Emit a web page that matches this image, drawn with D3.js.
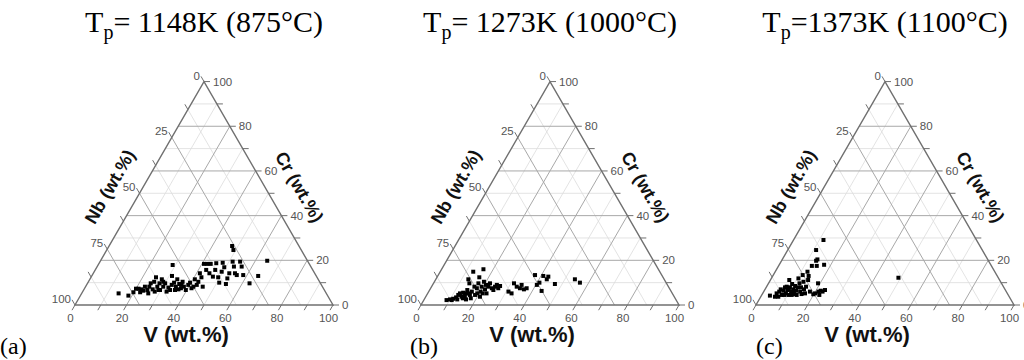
<!DOCTYPE html>
<html>
<head>
<meta charset="utf-8">
<script src="https://cdn.jsdelivr.net/npm/d3@7"></script>
<style>
  body { margin: 0; background: #fff; }
  svg { display: block; }
</style>
</head>
<body>
<svg id="chart" width="1024" height="360"></svg>
<script>
// Panel titles (text after the "T" with subscript p)
const titleTexts = ["= 1148K (875°C)", "= 1273K (1000°C)", "=1373K (1100°C)"];
const panelLetters = ["(a)", "(b)", "(c)"];

// Axis ticks (major, labelled) and minor steps
const vTicks = [0, 20, 40, 60, 80, 100];
const crTicks = [0, 20, 40, 60, 80, 100];
const nbTicks = [0, 25, 50, 75, 100];
const vMinor = [10, 30, 50, 70, 90];
const crMinor = [10, 30, 50, 70, 90];
const nbMinor = [12.5, 37.5, 62.5, 87.5];

// Compositions as [V, Cr] in wt.%, Nb is the balance
const pointsA = [
  [14.3,5.2],[18.6,4.2],[19.8,5.7],[20.0,7.3],[21.0,7.3],[22.2,7.0],[23.3,6.4],[24.7,6.7],
  [24.7,8.2],[24.5,9.7],[26.6,7.0],[25.5,10.4],[25.2,12.4],[27.8,8.2],[27.9,9.7],[29.6,6.7],
  [27.9,11.5],[30.1,8.2],[30.1,9.7],[32.5,6.0],[32.3,7.8],[28.9,17.9],[31.1,13.0],[33.4,10.0],
  [35.0,8.2],[33.9,11.5],[35.7,9.4],[37.3,7.5],[36.5,10.4],[38.1,8.2],[39.6,6.7],[39.4,9.0],
  [41.4,7.5],[40.7,11.5],[42.7,9.0],[42.6,10.4],[41.3,14.2],[42.8,12.4],[45.4,8.2],[40.8,18.4],
  [43.0,15.7],[42.1,18.4],[45.0,14.2],[43.4,18.4],[47.1,12.7],[46.5,15.7],[45.4,18.7],[49.3,12.4],
  [50.9,10.0],[49.4,14.9],[47.8,18.9],[49.4,16.9],[53.8,9.4],[53.1,11.9],[52.7,14.2],[47.7,26.4],
  [49.1,24.6],[51.4,19.4],[53.0,17.2],[54.9,14.2],[56.0,13.4],[54.3,19.4],[56.0,17.2],[58.5,13.4],
  [62.8,9.7],[64.5,13.0],[64.6,19.8],[23.0,8.2],[27.9,6.0],[29.0,6.7],[33.5,6.7],[33.0,9.0],
  [35.4,6.7],[36.6,7.0],[36.8,9.0],[39.6,10.0],[41.8,8.2],[29.0,10.4],[25.8,5.2],[22.4,5.7]
];
const pointsB = [
  [8.8,2.2],[10.0,2.5],[11.1,2.8],[11.9,3.4],[12.2,4.5],[12.5,5.2],[13.9,3.7],[13.6,5.5],
  [15.0,4.0],[16.2,2.5],[14.6,6.7],[15.7,5.2],[13.9,9.7],[17.8,3.0],[16.7,6.0],[12.8,14.9],
  [18.7,4.5],[17.9,7.5],[17.4,9.7],[16.4,12.4],[21.0,3.7],[20.1,6.0],[19.4,8.2],[16.2,16.0],
  [19.2,10.4],[21.3,7.0],[20.7,9.0],[22.8,5.2],[22.0,8.2],[21.9,9.7],[23.7,7.5],[24.7,6.7],
  [24.6,8.2],[24.9,9.0],[26.2,7.5],[26.4,8.5],[30.9,6.0],[32.5,5.2],[31.2,9.7],[33.0,8.2],
  [34.6,7.5],[34.5,9.0],[36.4,7.0],[37.2,7.5],[37.5,13.4],[40.4,9.0],[40.9,10.0],[43.6,6.3],
  [40.9,13.0],[43.0,11.5],[43.0,12.7],[47.2,9.4],[53.9,11.5],[56.6,10.0],[10.8,2.2],[12.8,2.5],
  [14.7,3.0],[14.8,5.2],[16.7,4.5],[19.2,5.2],[21.3,5.2],[12.6,11.5],[16.6,8.2]
];
const pointsC = [
  [3.3,4.2],[5.5,3.7],[5.4,5.2],[6.0,6.0],[6.1,7.0],[7.7,4.5],[7.4,6.4],[7.3,7.9],
  [9.0,5.2],[8.8,6.7],[10.3,4.5],[7.3,11.2],[9.2,7.9],[10.6,6.0],[9.3,9.4],[11.0,7.0],
  [12.3,4.9],[10.9,8.5],[12.3,6.4],[13.5,4.5],[12.2,7.9],[10.5,11.9],[12.0,9.7],[14.1,6.0],
  [13.5,7.9],[11.4,13.4],[13.2,10.4],[15.1,7.0],[16.4,5.2],[15.3,8.2],[12.5,14.9],[14.6,11.2],
  [13.9,13.0],[17.9,6.0],[12.9,17.5],[19.8,4.8],[20.3,5.2],[13.4,19.8],[14.8,17.5],[19.2,9.7],
  [21.2,6.0],[22.3,4.5],[21.9,6.4],[22.8,6.0],[17.4,18.0],[23.4,6.7],[11.6,29.1],[11.0,24.6],
  [13.6,20.4],[49.1,12.2],[6.8,3.7],[8.6,4.5],[11.6,4.5],[7.8,8.2],[11.2,6.0],[15.2,4.9],[9.2,7.0]
];

const panelData = [pointsA, pointsB, pointsC];
const panelLeft = [75, 421, 756];
const letterLeft = [0, 410, 756];

const side = 258;
const baseY = 305;
const triH = side * Math.sqrt(3) / 2;
const tickLen = 6;

const svg = d3.select("#chart");

function drawTernary(g, x0, data) {
    // scales along the base and up the height
    const along = d3.scaleLinear().domain([0, 100]).range([0, side]);
    const up = d3.scaleLinear().domain([0, 100]).range([0, triH]);
    const pos = (v, cr) => [x0 + along(v) + along(cr) / 2, baseY - up(cr)];

    const line = (a, b, cls, color, w) => {
        g.append("line")
            .attr("class", cls)
            .attr("x1", a[0]).attr("y1", a[1])
            .attr("x2", b[0]).attr("y2", b[1])
            .attr("stroke", color)
            .attr("stroke-width", w);
    };

    // grid: constant Cr (horizontal), constant V (parallel to left edge), constant Nb (parallel to right edge)
    const drawGrid = (crs, vs, nbs, color, w) => {
        crs.forEach(c => line(pos(0, c), pos(100 - c, c), "grid", color, w));
        vs.forEach(v => line(pos(v, 0), pos(v, 100 - v), "grid", color, w));
        nbs.forEach(n => line(pos(100 - n, 0), pos(0, 100 - n), "grid", color, w));
    };
    drawGrid(crMinor, vMinor, nbMinor, "#dcdcdc", 0.8);
    drawGrid(crTicks.slice(1, -1), vTicks.slice(1, -1), nbTicks.slice(1, -1), "#a8a8a8", 1);

    // triangle frame
    g.append("path")
        .attr("d", d3.line()([pos(0, 0), pos(100, 0), pos(0, 100)]) + "Z")
        .attr("fill", "none")
        .attr("stroke", "#707070")
        .attr("stroke-width", 1.4);

    const tickColor = "#707070";
    const labelStyle = sel => sel
        .attr("font-family", "Liberation Sans, Arial, sans-serif")
        .attr("font-size", 11.5)
        .attr("fill", "#555");

    // bottom axis (V): ticks point down-left
    const dl = [-0.5 * tickLen, 0.866 * tickLen];
    vTicks.concat(vMinor).forEach(v => {
        const p = pos(v, 0);
        line(p, [p[0] + dl[0], p[1] + dl[1]], "tick", tickColor, 1);
    });
    vTicks.forEach(v => {
        const p = pos(v, 0);
        g.append("text").call(labelStyle)
            .attr("x", p[0] - 4.5).attr("y", p[1] + 17)
            .attr("text-anchor", "middle")
            .text(v);
    });

    // right axis (Cr): ticks point right
    crTicks.concat(crMinor).forEach(c => {
        const p = pos(100 - c, c);
        line(p, [p[0] + tickLen, p[1]], "tick", tickColor, 1);
    });
    crTicks.forEach(c => {
        const p = pos(100 - c, c);
        g.append("text").call(labelStyle)
            .attr("x", p[0] + 9).attr("y", p[1] + 4)
            .text(c);
    });

    // left axis (Nb): ticks point up-left
    const ul = [-0.5 * tickLen, -0.866 * tickLen];
    nbTicks.concat(nbMinor).forEach(n => {
        const p = pos(0, 100 - n);
        line(p, [p[0] + ul[0], p[1] + ul[1]], "tick", tickColor, 1);
    });
    nbTicks.forEach(n => {
        const p = pos(0, 100 - n);
        g.append("text").call(labelStyle)
            .attr("x", p[0] - 4).attr("y", p[1] - 2)
            .attr("text-anchor", "end")
            .text(n);
    });

    // axis titles
    const axisFont = "Liberation Sans, Arial, sans-serif";
    g.append("text")
        .attr("x", x0 + side / 2 - 18).attr("y", 342)
        .attr("text-anchor", "middle")
        .attr("font-family", axisFont).attr("font-size", 22).attr("font-weight", "bold")
        .attr("fill", "#111")
        .text("V (wt.%)");

    const leftMid = pos(0, 50);
    const nbC = [leftMid[0] - 0.866 * 29 - 0.5 * 9, leftMid[1] - 0.5 * 29 + 0.866 * 9];
    g.append("text")
        .attr("transform", `translate(${nbC[0]},${nbC[1]}) rotate(-60)`)
        .attr("text-anchor", "middle").attr("dy", "0.35em")
        .attr("font-family", axisFont).attr("font-size", 18).attr("font-weight", "bold")
        .attr("fill", "#111")
        .text("Nb (wt.%)");

    const rightMid = pos(50, 50);
    const crC = [rightMid[0] + 0.866 * 30 + 0.5 * 10, rightMid[1] - 0.5 * 30 + 0.866 * 10];
    g.append("text")
        .attr("transform", `translate(${crC[0]},${crC[1]}) rotate(60)`)
        .attr("text-anchor", "middle").attr("dy", "0.35em")
        .attr("font-family", axisFont).attr("font-size", 18).attr("font-weight", "bold")
        .attr("fill", "#111")
        .text("Cr (wt.%)");

    // data points
    g.selectAll("path.pt")
        .data(data)
        .join("path")
        .attr("class", "pt")
        .attr("transform", d => `translate(${pos(d[0], d[1])})`)
        .attr("d", d3.symbol(d3.symbolSquare, 16))
        .attr("fill", "#000");
}

panelData.forEach((data, i) => {
    const x0 = panelLeft[i];
    const g = svg.append("g").attr("class", "panel");
    drawTernary(g, x0, data);

    // title with subscript
    const t = g.append("text")
        .attr("x", x0 + side / 2).attr("y", 32)
        .attr("text-anchor", "middle")
        .attr("font-family", "Liberation Serif, Times New Roman, serif")
        .attr("font-size", 30)
        .attr("fill", "#000");
    t.append("tspan").text("T");
    t.append("tspan").attr("font-size", 20).attr("dy", 7).text("p");
    t.append("tspan").attr("dy", -7).text(titleTexts[i]);

    // panel letter
    g.append("text")
        .attr("x", letterLeft[i]).attr("y", 354)
        .attr("font-family", "Liberation Serif, Times New Roman, serif")
        .attr("font-size", 24)
        .text(panelLetters[i]);
});
</script>
</body>
</html>
